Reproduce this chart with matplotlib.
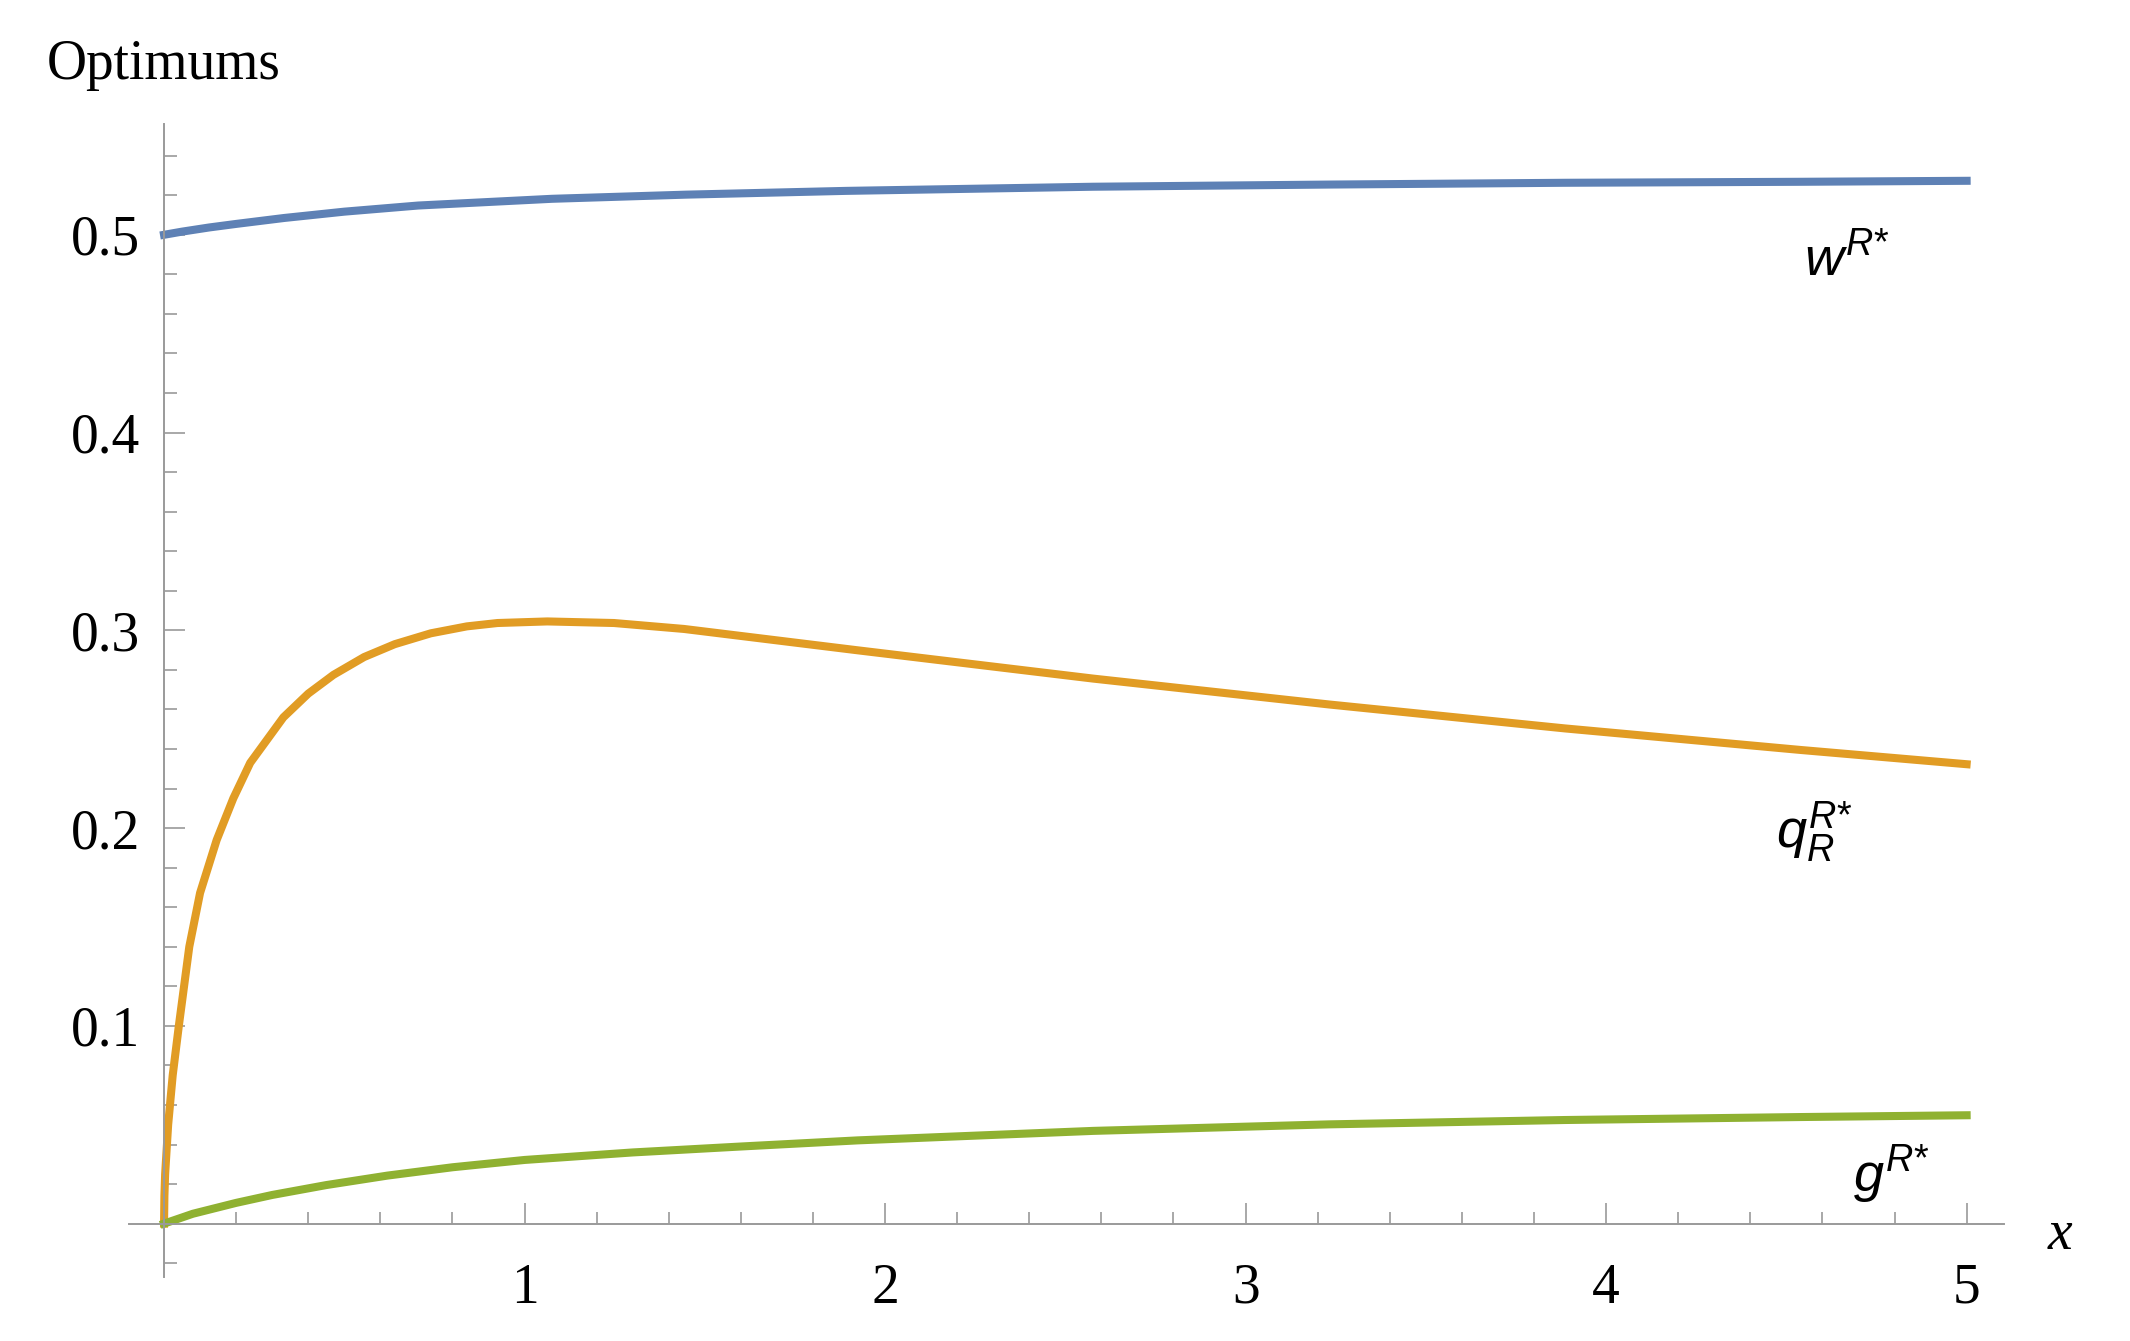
import matplotlib
matplotlib.use('Agg')
import matplotlib.pyplot as plt
from matplotlib.ticker import MultipleLocator, FixedLocator

# curve labels use a sans italic, like the original
plt.rcParams['mathtext.fontset'] = 'custom'
plt.rcParams['mathtext.it'] = 'Liberation Sans:italic'
plt.rcParams['mathtext.rm'] = 'Liberation Sans'

# values
w_x = [0, 0.05, 0.125, 0.2, 0.333, 0.5, 0.705, 1.076, 1.448, 1.89, 2.577, 3.232, 3.886, 4.54, 5.0]
w_y = [0.5, 0.5016, 0.5037, 0.5055, 0.5085, 0.5117, 0.5148, 0.5182, 0.5203, 0.5222, 0.5243,
       0.5254, 0.5263, 0.5268, 0.5273]

q_x = [0, 0.001, 0.003, 0.0114, 0.024, 0.041, 0.07, 0.0999, 0.146, 0.192, 0.239, 0.331, 0.40,
       0.47, 0.555, 0.64, 0.74, 0.84, 0.925, 1.063, 1.248, 1.442, 1.924, 2.577, 3.232, 3.886, 4.54, 5.0]
q_y = [0, 0.014, 0.025, 0.05, 0.075, 0.10, 0.14, 0.1672, 0.194, 0.2150, 0.2330, 0.2560, 0.2680,
       0.2775, 0.2865, 0.2930, 0.2985, 0.3020, 0.3037, 0.3045, 0.3037, 0.3007, 0.2899, 0.2756,
       0.2625, 0.2504, 0.2395, 0.2323]

g_x = [0, 0.08, 0.2, 0.3, 0.45, 0.62, 0.8, 1.0, 1.3, 1.6, 1.924, 2.577, 3.232, 3.886, 4.54, 5.0]
g_y = [0, 0.005, 0.0105, 0.0145, 0.0195, 0.0243, 0.0285, 0.0322, 0.036, 0.039, 0.0421, 0.0469,
       0.0502, 0.0524, 0.0539, 0.0548]

x_major = [1, 2, 3, 4, 5]
y_major = [0.1, 0.2, 0.3, 0.4, 0.5]

fig = plt.figure(figsize=(21.3, 13.41), dpi=100)
ax = fig.add_axes([0.0606, 0.0477, 0.8803, 0.8598])

ax.plot(w_x, w_y, color='#5E81B5', lw=5.8, solid_joinstyle='round')
ax.plot(q_x, q_y, color='#E19C24', lw=5.8, solid_joinstyle='round')
ax.plot(g_x, g_y, color='#8FB131', lw=5.8, solid_joinstyle='round')

ax.set_xlim(-0.097, 5.104)
ax.set_ylim(-0.027, 0.556)

# Mathematica style axes crossing at the origin
for side in ['top', 'right']:
    ax.spines[side].set_visible(False)
ax.spines['left'].set_position(('data', 0))
ax.spines['bottom'].set_position(('data', 0))
for side in ['left', 'bottom']:
    ax.spines[side].set_color('#9a9a9a')
    ax.spines[side].set_linewidth(1.4)

ax.xaxis.set_major_locator(FixedLocator(x_major))
ax.xaxis.set_minor_locator(MultipleLocator(0.2))
ax.yaxis.set_major_locator(FixedLocator(y_major))
ax.yaxis.set_minor_locator(MultipleLocator(0.02))
ax.set_xticklabels([str(v) for v in x_major])
ax.set_yticklabels([str(v) for v in y_major])

ax.tick_params(axis='both', which='both', direction='in', color='#9a9a9a', width=1.2)
ax.tick_params(axis='both', which='major', length=15)
ax.tick_params(axis='both', which='minor', length=9)
ax.tick_params(axis='x', which='major', pad=28)
ax.tick_params(axis='y', which='major', pad=17)
for lab in ax.get_xticklabels() + ax.get_yticklabels():
    lab.set_fontfamily('Liberation Serif')
    lab.set_fontsize(40)

ax.text(-0.325, 0.579, 'Optimums', family='Liberation Serif', fontsize=40,
        ha='left', va='baseline', clip_on=False)
ax.text(5.226, -0.0055, 'x', family='Liberation Serif', style='italic', fontsize=40,
        ha='left', va='center', clip_on=False)

ax.text(4.55, 0.479, r'$w^{R\!*}$', fontsize=39, ha='left', va='baseline')
ax.text(4.47, 0.19, r'$q_{R}^{R\!*}$', fontsize=39, ha='left', va='baseline')
ax.text(4.685, 0.016, r'$g^{R\!*}$', fontsize=39, ha='left', va='baseline')

fig.savefig('out.png', dpi=100)
